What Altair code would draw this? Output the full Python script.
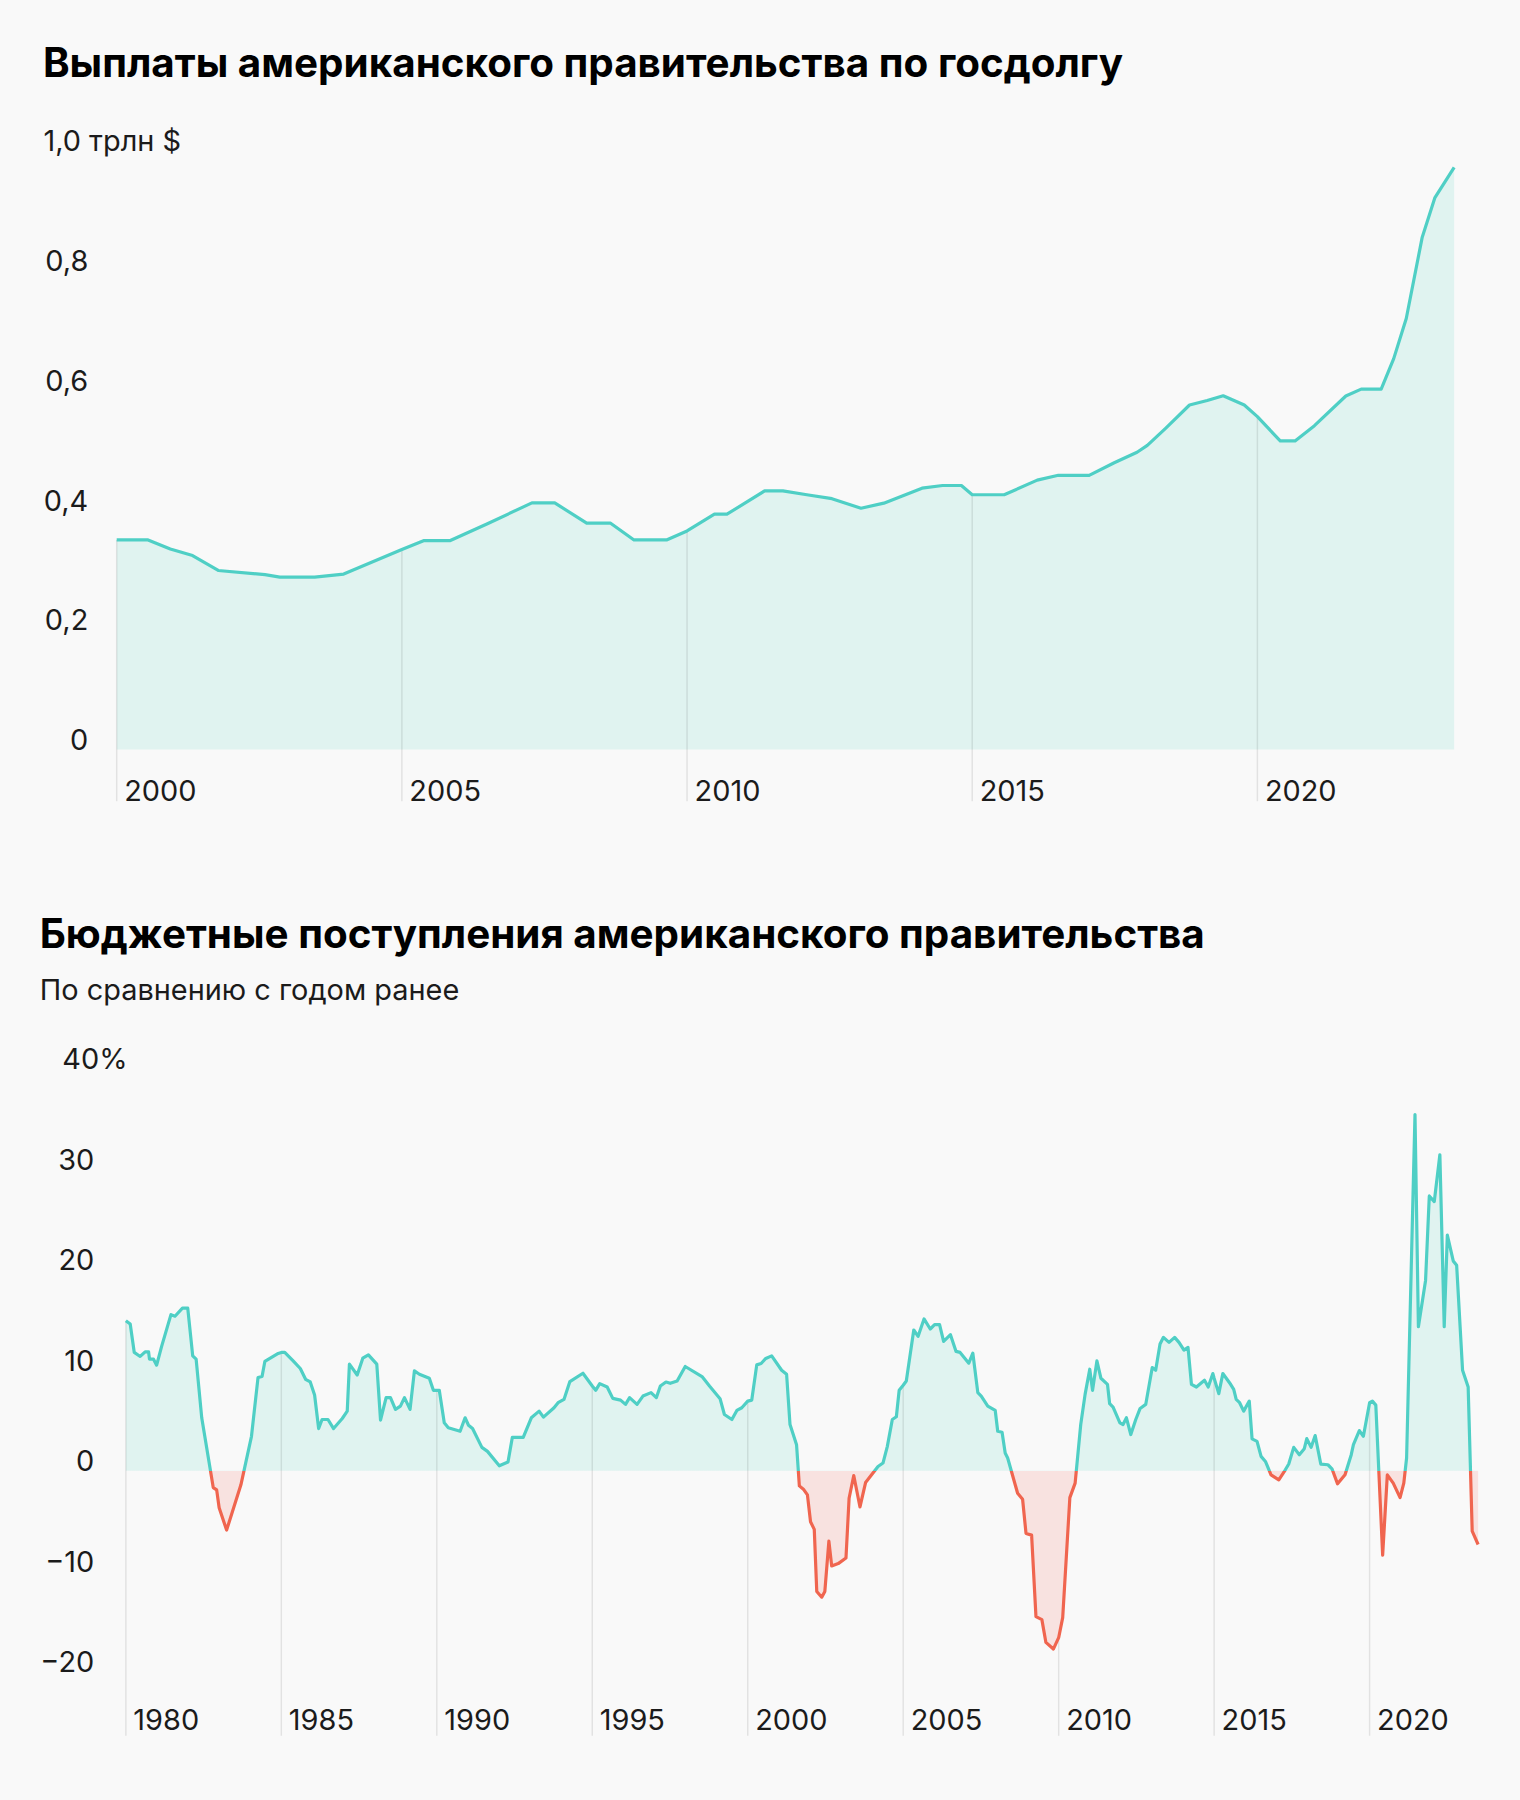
import altair as alt
import pandas as pd

# ---------------- data: interest payments on US public debt (trillion $) ----------------
debt_year = [2000.0, 2000.55, 2000.94, 2001.33, 2001.78, 2002.6, 2002.86, 2003.47, 2003.98,
             2005.0, 2005.39, 2005.85, 2006.5, 2007.28, 2007.68, 2008.24, 2008.66, 2009.07,
             2009.64, 2010.0, 2010.48, 2010.70, 2011.36, 2011.68, 2012.10, 2012.54, 2013.05,
             2013.45, 2014.12, 2014.48, 2014.81, 2015.0, 2015.56, 2016.14, 2016.51, 2017.05,
             2017.49, 2017.89, 2018.07, 2018.39, 2018.81, 2019.12, 2019.40, 2019.77, 2020.0,
             2020.40, 2020.66, 2021.0, 2021.55, 2021.82, 2022.17, 2022.39, 2022.61, 2022.89,
             2023.11, 2023.45]
debt_value = [0.350, 0.350, 0.335, 0.324, 0.299, 0.292, 0.288, 0.288, 0.293,
              0.334, 0.349, 0.349, 0.377, 0.412, 0.412, 0.378, 0.378, 0.350,
              0.350, 0.365, 0.393, 0.393, 0.432, 0.432, 0.4255, 0.419, 0.403,
              0.4115, 0.4365, 0.441, 0.441, 0.4255, 0.4255, 0.450, 0.458, 0.458,
              0.479, 0.4965, 0.508, 0.5365, 0.5755, 0.583, 0.591, 0.5755, 0.556,
              0.5155, 0.5155, 0.541, 0.5905, 0.602, 0.602, 0.653, 0.720, 0.856,
              0.9215, 0.9727]
debt_ticks = [2000, 2005, 2010, 2015, 2020]
debt_yticks = [0, 0.2, 0.4, 0.6, 0.8, 1.0]

# ---------------- data: US budget receipts, % change year over year ----------------
rev_year = [1980.0, 1980.14, 1980.27, 1980.46, 1980.62, 1980.73, 1980.76, 1980.89, 1980.99, 1981.15,
            1981.45, 1981.58, 1981.82, 1981.99, 1982.15, 1982.26, 1982.44, 1982.81, 1982.92, 1983.0,
            1983.24, 1983.70, 1984.04, 1984.25, 1984.38, 1984.47, 1984.90, 1985.0, 1985.11, 1985.38,
            1985.61, 1985.78, 1985.93, 1986.07, 1986.20, 1986.31, 1986.50, 1986.68, 1986.96, 1987.12,
            1987.19, 1987.44, 1987.62, 1987.80, 1988.07, 1988.19, 1988.37, 1988.51, 1988.67, 1988.83,
            1988.96, 1989.14, 1989.28, 1989.44, 1989.76, 1989.89, 1990.0, 1990.08, 1990.24, 1990.37,
            1990.75, 1990.91, 1991.02, 1991.15, 1991.45, 1991.63, 1992.01, 1992.29, 1992.43, 1992.78,
            1993.04, 1993.29, 1993.43, 1993.77, 1993.90, 1994.09, 1994.28, 1994.70, 1995.0, 1995.11,
            1995.24, 1995.48, 1995.66, 1995.91, 1996.07, 1996.2, 1996.44, 1996.63, 1996.89, 1997.06,
            1997.19, 1997.37, 1997.51, 1997.73, 1997.99, 1998.53, 1998.77, 1999.11, 1999.25, 1999.49,
            1999.65, 1999.81, 2000.0, 2000.13, 2000.29, 2000.43, 2000.58, 2000.77, 2001.09, 2001.25,
            2001.36, 2001.57, 2001.66, 2001.79, 2001.92, 2002.02, 2002.14, 2002.22, 2002.38, 2002.48,
            2002.61, 2002.70, 2002.91, 2003.16, 2003.26, 2003.41, 2003.61, 2003.79, 2004.19, 2004.35,
            2004.49, 2004.65, 2004.78, 2004.87, 2005.0, 2005.10, 2005.34, 2005.48, 2005.67, 2005.87,
            2006.01, 2006.17, 2006.30, 2006.52, 2006.70, 2006.83, 2007.11, 2007.24, 2007.40, 2007.51,
            2007.72, 2007.96, 2008.04, 2008.18, 2008.28, 2008.36, 2008.68, 2008.84, 2008.95, 2009.13,
            2009.27, 2009.46, 2009.59, 2009.83, 2010.0, 2010.13, 2010.36, 2010.53, 2010.71, 2010.85,
            2011.0, 2011.09, 2011.23, 2011.36, 2011.57, 2011.64, 2011.75, 2011.97, 2012.07, 2012.18,
            2012.32, 2012.48, 2012.62, 2012.80, 2013.01, 2013.12, 2013.26, 2013.37, 2013.55, 2013.73,
            2013.87, 2014.03, 2014.16, 2014.27, 2014.43, 2014.69, 2014.81, 2014.96, 2015.0, 2015.15,
            2015.28, 2015.53, 2015.63, 2015.71, 2015.82, 2015.95, 2016.13, 2016.22, 2016.38, 2016.51,
            2016.65, 2016.83, 2017.08, 2017.29, 2017.40, 2017.56, 2017.74, 2017.90, 2017.98, 2018.12,
            2018.25, 2018.43, 2018.66, 2018.79, 2018.97, 2019.21, 2019.41, 2019.48, 2019.67, 2019.80,
            2020.0, 2020.09, 2020.20, 2020.42, 2020.57, 2020.76, 2020.98, 2021.10, 2021.19, 2021.46,
            2021.57, 2021.80, 2021.92, 2022.08, 2022.26, 2022.40, 2022.50, 2022.69, 2022.80, 2022.99,
            2023.17, 2023.30, 2023.49]
rev_value = [14.93, 14.6, 11.77, 11.37, 11.83, 11.83, 11.1, 11.1, 10.5, 12.37,
             15.53, 15.37, 16.17, 16.17, 11.43, 11.1, 5.27, -1.67, -1.9, -3.67,
             -5.9, -1.4, 3.43, 9.27, 9.37, 10.87, 11.67, 11.77, 11.77, 10.93,
             10.17, 9.1, 8.83, 7.53, 4.2, 5.1, 5.1, 4.2, 5.2, 5.93,
             10.6, 9.53, 11.2, 11.53, 10.6, 5.03, 7.27, 7.27, 6.1, 6.43,
             7.27, 6.1, 9.93, 9.6, 9.2, 8.0, 8.0, 8.0, 4.77, 4.27,
             3.93, 5.27, 4.53, 4.2, 2.33, 1.93, 0.5, 0.87, 3.33, 3.33,
             5.27, 5.93, 5.33, 6.27, 6.77, 7.1, 8.87, 9.7, 8.43, 8.0,
             8.67, 8.33, 7.2, 7.03, 6.6, 7.27, 6.6, 7.43, 7.77, 7.27,
             8.43, 8.83, 8.7, 8.93, 10.37, 9.37, 8.43, 7.17, 5.6, 5.1,
             6.0, 6.27, 6.93, 7.03, 10.53, 10.67, 11.17, 11.43, 10.0, 9.6,
             4.6, 2.6, -1.5, -1.83, -2.4, -5.07, -5.83, -12.0, -12.57, -12.0,
             -7.0, -9.47, -9.23, -8.67, -2.73, -0.47, -3.6, -1.17, 0.43, 0.77,
             2.43, 5.1, 5.37, 8.0, 8.5, 8.93, 14.0, 13.37, 15.1, 14.1,
             14.53, 14.53, 12.87, 13.53, 11.87, 11.77, 10.7, 11.7, 7.77, 7.43,
             6.43, 6.0, 3.93, 3.83, 1.77, 1.27, -2.23, -2.83, -6.23, -6.4,
             -14.5, -14.8, -17.07, -17.73, -16.6, -14.6, -2.67, -1.23, 4.6, 7.6,
             10.1, 8.0, 10.93, 9.2, 8.6, 6.67, 6.33, 4.77, 4.6, 5.27,
             3.6, 5.1, 6.2, 6.6, 10.27, 10.0, 12.6, 13.27, 12.77, 13.27,
             12.77, 12.0, 12.27, 8.6, 8.33, 9.0, 8.33, 9.67, 9.2, 7.67,
             9.67, 8.6, 8.1, 7.1, 6.77, 5.93, 6.93, 3.17, 2.93, 1.43,
             0.93, -0.4, -0.9, 0.1, 0.67, 2.33, 1.6, 2.2, 3.2, 2.33,
             3.5, 0.67, 0.6, 0.2, -1.3, -0.4, 1.6, 2.6, 4.0, 3.43,
             6.77, 6.93, 6.53, -8.4, -0.4, -1.23, -2.67, -1.23, 1.27, 35.43,
             14.33, 18.93, 27.33, 26.77, 31.43, 14.33, 23.43, 20.87, 20.43, 10.0,
             8.33, -6.0, -7.33]
rev_ticks = [1980, 1985, 1990, 1995, 2000, 2005, 2010, 2015, 2020]
rev_yticks = [-20, -10, 0, 10, 20, 30, 40]

TITLE_1 = "Выплаты американского правительства по госдолгу"
TITLE_2 = "Бюджетные поступления американского правительства"
SUBTITLE_2 = "По сравнению с годом ранее"

# ---------------- style ----------------
FONT = "Inter"
TEAL = "#4fcfc5"
TEAL_FILL = "#e0f3f0"
RED = "#f0654f"
RED_FILL = "#f8e2e0"
TEXT = "#1b1b1b"
BG = "#f9f9f9"
LABEL_SIZE = 29
TITLE_SIZE = 40.5
LINE_W = 3.2

df1 = pd.DataFrame({"year": debt_year, "value": debt_value})
df2 = pd.DataFrame({"year": rev_year, "value": rev_value})

W1, H1 = 1341, 600
W2, H2 = 1365, 615
REV_X0 = 1979.705  # small lead-in so the lower plot starts a few px right of the upper one


def x_axis(ticks, pad):
    return alt.Axis(values=ticks, format="d", title=None, domain=False, ticks=False, tickSize=0,
                    grid=False, labelAlign="left", labelOffset=7, labelPadding=pad,
                    labelBaseline="alphabetic", labelFlush=False, labelOverlap=False,
                    labelFont=FONT, labelFontSize=LABEL_SIZE, labelColor=TEXT)


# ---------------- chart 1 ----------------
X1 = alt.X("year:Q", scale=alt.Scale(domain=[min(debt_year), max(debt_year)], nice=False, zero=False),
           axis=x_axis(debt_ticks, 51))
Y1 = alt.Y("value:Q", scale=alt.Scale(domain=[0, 1], nice=False, zero=False),
           axis=alt.Axis(values=debt_yticks, title=None, domain=False, ticks=False, tickSize=0, grid=False,
                         labelExpr="datum.value == 0 ? '0' : replace(format(datum.value, '.1f'), '.', ',') + (datum.value == 1 ? ' трлн $' : '')",
                         labelAlign={"condition": {"test": "datum.value == 1", "value": "left"}, "value": "right"},
                         labelPadding={"condition": {"test": "datum.value == 1", "value": 74}, "value": 29},
                         labelBaseline="alphabetic", labelFlush=False, labelOverlap=False,
                         labelFont=FONT, labelFontSize=LABEL_SIZE, labelColor=TEXT))

area1 = alt.Chart(df1).mark_area(color=TEAL_FILL).encode(x=X1, y=Y1, y2=alt.datum(0))
rule1 = (alt.Chart(df1)
         .transform_filter(alt.FieldOneOfPredicate(field="year", oneOf=debt_ticks))
         .mark_rule(color="#000000", opacity=0.09, strokeWidth=1.5)
         .encode(x=X1, y=Y1, y2=alt.value(H1 + 52)))
line1 = alt.Chart(df1).mark_line(color=TEAL, strokeWidth=LINE_W, strokeJoin="round").encode(x=X1, y=Y1)

chart1 = alt.layer(area1, rule1, line1).properties(
    width=W1, height=H1,
    title=alt.TitleParams(TITLE_1, anchor="start", frame="bounds", font=FONT, fontSize=TITLE_SIZE,
                          fontWeight="bold", color="#000000", offset=43))

# ---------------- chart 2 ----------------
vmax, vmin = max(rev_value), min(rev_value)
zero_at = vmax / (vmax - vmin)


def split_gradient(top, bottom):
    return alt.Gradient(gradient="linear", x1=0, x2=0, y1=0, y2=1,
                        stops=[alt.GradientStop(color=top, offset=0),
                               alt.GradientStop(color=top, offset=zero_at),
                               alt.GradientStop(color=bottom, offset=zero_at),
                               alt.GradientStop(color=bottom, offset=1)])


X2 = alt.X("year:Q", scale=alt.Scale(domain=[REV_X0, max(rev_year)], nice=False, zero=False),
           axis=x_axis(rev_ticks, 48))
Y2 = alt.Y("value:Q", scale=alt.Scale(domain=[-21, 40], nice=False, zero=False),
           axis=alt.Axis(values=rev_yticks, title=None, domain=False, ticks=False, tickSize=0, grid=False,
                         labelExpr="datum.value == 40 ? '40%' : (datum.value < 0 ? '\u2212' + format(-datum.value, 'd') : format(datum.value, 'd'))",
                         labelAlign={"condition": {"test": "datum.value == 40", "value": "left"}, "value": "right"},
                         labelPadding={"condition": {"test": "datum.value == 40", "value": 55}, "value": 23},
                         labelBaseline="alphabetic", labelFlush=False, labelOverlap=False,
                         labelFont=FONT, labelFontSize=LABEL_SIZE, labelColor=TEXT))

area2 = alt.Chart(df2).mark_area(fill=split_gradient(TEAL_FILL, RED_FILL)).encode(x=X2, y=Y2, y2=alt.datum(0))
rule2 = (alt.Chart(df2)
         .transform_filter(alt.FieldOneOfPredicate(field="year", oneOf=rev_ticks))
         .mark_rule(color="#000000", opacity=0.09, strokeWidth=1.5)
         .encode(x=X2, y=Y2, y2=alt.value(H2 + 54)))
line2 = alt.Chart(df2).mark_line(stroke=split_gradient(TEAL, RED), strokeWidth=LINE_W,
                                 strokeJoin="round").encode(x=X2, y=Y2)

chart2 = alt.layer(area2, rule2, line2).properties(
    width=W2, height=H2,
    title=alt.TitleParams(TITLE_2, subtitle=SUBTITLE_2, anchor="start", frame="bounds", font=FONT,
                          fontSize=TITLE_SIZE, fontWeight="bold", color="#000000",
                          subtitleFont=FONT, subtitleFontSize=LABEL_SIZE, subtitleColor=TEXT,
                          subtitlePadding=20, offset=40))

chart = (alt.concat(chart1, chart2, columns=1, spacing=110)
         .properties(background=BG, padding={"left": 39, "top": 42, "right": 40, "bottom": 61})
         .configure_view(stroke=None))

chart.save("out.html", embed_options={"renderer": "svg", "actions": False})
